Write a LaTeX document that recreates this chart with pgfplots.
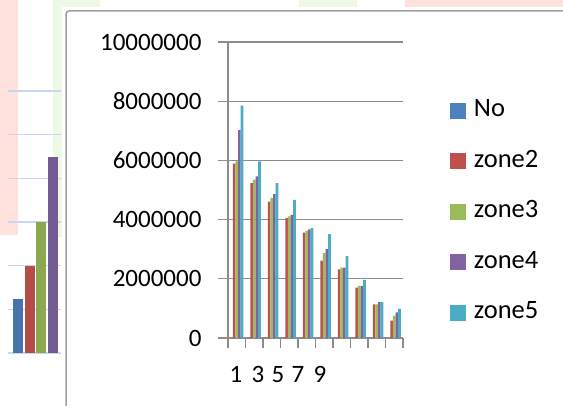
\documentclass[border=0pt]{standalone}
\usepackage{pgfplots}
\pgfplotsset{compat=1.18}
\usepackage{fontspec}
\setmainfont{Carlito}
\definecolor{cNo}{HTML}{4F81BD}
\definecolor{cZ2}{HTML}{C0504D}
\definecolor{cZ3}{HTML}{9BBB59}
\definecolor{cZ4}{HTML}{8064A2}
\definecolor{cZ5}{HTML}{4BACC6}
\definecolor{bgpink}{HTML}{FFE2DE}
\definecolor{bggreen}{HTML}{EEF8E6}
\definecolor{gridblue}{HTML}{C9D7EC}
\definecolor{framegray}{HTML}{A0A0A0}
\definecolor{axgray}{HTML}{8C8C8C}
\pgfplotstableread{
x No zoneA zoneB zoneC zoneD
1 0 5890000 5970000 7020000 7850000
2 0 5230000 5350000 5460000 5970000
3 0 4610000 4730000 4860000 5230000
4 0 4050000 4110000 4160000 4670000
5 0 3560000 3620000 3670000 3710000
6 0 2610000 2870000 3000000 3510000
7 0 2320000 2380000 2380000 2770000
8 0 1700000 1760000 1760000 1960000
9 0 1140000 1140000 1210000 1210000
10 0 590000 760000 870000 980000
}\maindata
\begin{document}
\begin{tikzpicture}[x=1bp,y=1bp]
\path[use as bounding box] (0,0) rectangle (563,405);
\clip (0,0) rectangle (563,405);
% background decorations
\fill[bgpink] (0,405) rectangle (18,170);
\fill[bggreen] (53,405) rectangle (62,168);
\fill[bggreen] (54,405) rectangle (100,398);
\fill[bggreen] (299,405) rectangle (357,398);
\fill[bgpink] (405,405) rectangle (563,398);
% left mini chart
\begin{axis}[
  at={(8bp,52bp)}, anchor=south west,
  scale only axis, width=53bp, height=262bp,
  xmin=0, xmax=53, ymin=0, ymax=6,
  axis line style={draw=none}, tick style={draw=none},
  ytick={0,1,...,6}, xtick=\empty,
  ymajorgrids, grid style={gridblue, line width=1.6bp},
  yticklabels={},
  ybar, bar width=10bp, bar shift=0pt,
  clip=false,
]
\addplot[fill=cNo!90!black, draw=none] coordinates {(10,1.24)};
\addplot[fill=cZ2!95!black, draw=none] coordinates {(21.5,2.0)};
\addplot[fill=cZ3!90!black, draw=none] coordinates {(33,3.0)};
\addplot[fill=cZ4!90!black, draw=none] coordinates {(44.5,4.49)};
\end{axis}
% frame
\draw[framegray, line width=1.5bp, rounded corners=3bp] (66,-5) -- (66,394) -- (570,394);
% main chart
\begin{axis}[
  at={(228bp,67bp)}, anchor=south west,
  scale only axis, width=175bp, height=296bp,
  xmin=0.5, xmax=10.5, ymin=0, ymax=10000000,
  ybar=0pt, bar width=2.6bp,
  axis x line*=bottom, axis y line*=left,
  axis line style={axgray, line width=1.3bp},
  tick style={axgray, line width=1.3bp},
  tick align=outside, major tick length=10bp,
  ytick={0,2000000,4000000,6000000,8000000,10000000},
  scaled y ticks=false,
  /pgf/number format/assume math mode=true,
  yticklabel style={/pgf/number format/fixed, /pgf/number format/1000 sep={}, /pgf/number format/precision=0, xshift=-13bp},
  ymajorgrids, grid style={axgray, line width=1.3bp},
  xtick={0.5,1.5,...,10.5}, xticklabels={},
  extra x ticks={0.96,2.21,3.36,4.5,5.76},
  extra x tick labels={1,3,5,7,9},
  extra x tick style={major tick length=0pt, xmajorgrids=false, xticklabel style={yshift=-25bp}},
  font=\fontsize{25bp}{30bp}\selectfont,
  legend cell align=left,
  legend image code/.code={\fill[#1] (0bp,-8bp) rectangle (16bp,8bp);},
  legend style={draw=none, fill=none, at={(axis description cs:1.25,0.813)}, anchor=north west,
    font=\fontsize{26.5bp}{30bp}\selectfont, row sep=28.5bp,
    nodes={inner sep=0pt, text height=17bp, text depth=5bp},
    /tikz/column 1/.style={column sep=8bp}},
  legend entries={No,zone2,zone3,zone4,zone5},
  clip=false,
]
\addplot[fill=cNo, draw=none] table[x=x,y=No] {\maindata};
\addplot[fill=cZ2, draw=none] table[x=x,y=zoneA] {\maindata};
\addplot[fill=cZ3, draw=none] table[x=x,y=zoneB] {\maindata};
\addplot[fill=cZ4, draw=none] table[x=x,y=zoneC] {\maindata};
\addplot[fill=cZ5, draw=none] table[x=x,y=zoneD] {\maindata};
\end{axis}
\end{tikzpicture}
\end{document}
